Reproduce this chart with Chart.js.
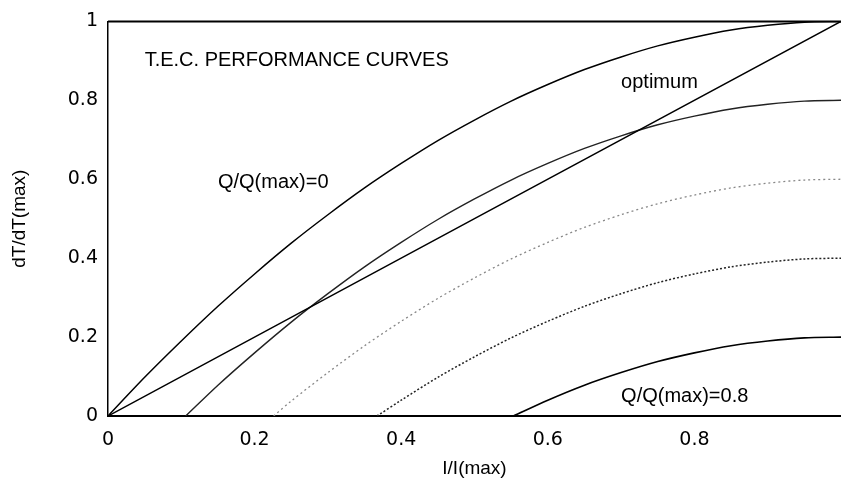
<!DOCTYPE html>
<html>
<head>
<meta charset="utf-8">
<script src="https://cdn.jsdelivr.net/npm/chart.js@4/dist/chart.umd.min.js"></script>
<style>
  body { margin: 0; background: #fff; }
  #wrap { width: 841px; height: 480px; }
</style>
</head>
<body>
<div id="wrap"><canvas id="myChart" width="841" height="480"></canvas></div>
<script>
// I/I(max) sample points
var iGrid = [0, 0.05, 0.1, 0.15, 0.2, 0.25, 0.3, 0.35, 0.4, 0.45, 0.5, 0.55, 0.6, 0.65, 0.7, 0.75, 0.8, 0.85, 0.9, 0.95, 1];

// dT/dT(max), one list per Q/Q(max)
var q00 = [0, 0.098, 0.19, 0.278, 0.36, 0.438, 0.51, 0.578, 0.64, 0.698, 0.75, 0.798, 0.84, 0.878, 0.91, 0.938, 0.96, 0.978, 0.99, 0.998, 1.00];
var q02 = [null, null, null, 0.078, 0.16, 0.238, 0.31, 0.378, 0.44, 0.498, 0.55, 0.598, 0.64, 0.678, 0.71, 0.738, 0.76, 0.778, 0.79, 0.798, 0.80];
var q04 = [null, null, null, null, null, 0.038, 0.11, 0.178, 0.24, 0.298, 0.35, 0.398, 0.44, 0.478, 0.51, 0.538, 0.56, 0.578, 0.59, 0.598, 0.60];
var q06 = [null, null, null, null, null, null, null, null, 0.04, 0.098, 0.15, 0.198, 0.24, 0.278, 0.31, 0.338, 0.36, 0.378, 0.39, 0.398, 0.40];
var q08 = [null, null, null, null, null, null, null, null, null, null, null, null, 0.04, 0.078, 0.11, 0.138, 0.16, 0.178, 0.19, 0.198, 0.20];

// where each curve leaves the x axis
var zeroCross = [0, 0.106, 0.226, 0.367, 0.553];

// optimum line
var optI = [0, 1];
var optT = [0, 1];

var xTicks = [0, 0.2, 0.4, 0.6, 0.8];

function makePoints(start, vals) {
    var pts = [];
    if (start > 0) pts.push({x: start, y: 0});
    for (var i = 0; i < iGrid.length; i++) {
        if (vals[i] !== null && iGrid[i] >= start) pts.push({x: iGrid[i], y: vals[i]});
    }
    return pts;
}

var font = "'Liberation Sans', Arial, sans-serif";
var tickFont = "'DejaVu Sans', sans-serif";

var labels = [
    {text: "T.E.C. PERFORMANCE CURVES", x: 0.05, y: 0.902},
    {text: "optimum", x: 0.70, y: 0.844},
    {text: "Q/Q(max)=0", x: 0.15, y: 0.592},
    {text: "Q/Q(max)=0.8", x: 0.70, y: 0.05}
];

var textPlugin = {
    id: 'notes',
    afterDatasetsDraw: function(chart) {
        var c = chart.ctx, xs = chart.scales.x, ys = chart.scales.y, a = chart.chartArea;
        c.save();
        c.strokeStyle = '#000';
        c.lineWidth = 2;
        c.beginPath();
        c.moveTo(a.left, a.top);
        c.lineTo(a.right, a.top);
        c.stroke();
        c.fillStyle = '#000';
        c.font = '20px ' + font;
        c.textBaseline = 'middle';
        c.textAlign = 'left';
        labels.forEach(function(l) {
            c.fillText(l.text, xs.getPixelForValue(l.x), ys.getPixelForValue(l.y));
        });
        c.restore();
    }
};

function line(data, color, width, dash) {
    return {
        data: data,
        borderColor: color,
        borderWidth: width,
        borderDash: dash || [],
        pointRadius: 0,
        fill: false,
        tension: 0.3
    };
}

function fmt(v) { return String(Math.round(v * 10) / 10); }

var ctx = document.getElementById('myChart').getContext('2d');
var chart = new Chart(ctx, {
    type: 'line',
    data: {
        datasets: [
            line(makePoints(zeroCross[0], q00), '#000', 1.5),
            line(optI.map(function(v, i) { return {x: v, y: optT[i]}; }), '#000', 1.5),
            line(makePoints(zeroCross[1], q02), '#222', 1.4),
            line(makePoints(zeroCross[2], q04), '#888', 1.3, [2, 3]),
            line(makePoints(zeroCross[3], q06), '#222', 1.5, [2, 2]),
            line(makePoints(zeroCross[4], q08), '#000', 1.6)
        ]
    },
    options: {
        responsive: false,
        animation: false,
        layout: {padding: {top: 16, right: 0, left: 0, bottom: 0}},
        plugins: {legend: {display: false}, tooltip: {enabled: false}},
        scales: {
            x: {
                type: 'linear', min: 0, max: 1,
                afterBuildTicks: function(s) { s.ticks = xTicks.map(function(v) { return {value: v}; }); },
                afterFit: function(s) { s.height = 64; },
                grid: {display: false, drawTicks: false},
                border: {color: '#000', width: 2},
                ticks: {color: '#000', font: {family: tickFont, size: 19}, padding: 13, maxRotation: 0, callback: fmt},
                title: {display: true, text: 'I/I(max)', color: '#000', font: {family: font, size: 19}, padding: {top: 2, bottom: 0}}
            },
            y: {
                min: 0, max: 1,
                afterFit: function(s) { s.width = 108; },
                grid: {display: false, drawTicks: false},
                border: {color: '#000', width: 1.5},
                ticks: {stepSize: 0.2, color: '#000', font: {family: tickFont, size: 19}, padding: 10, callback: fmt},
                title: {display: true, text: 'dT/dT(max)', color: '#000', font: {family: font, size: 19}, padding: {top: 8, bottom: 0}}
            }
        }
    },
    plugins: [textPlugin]
});
</script>
</body>
</html>
